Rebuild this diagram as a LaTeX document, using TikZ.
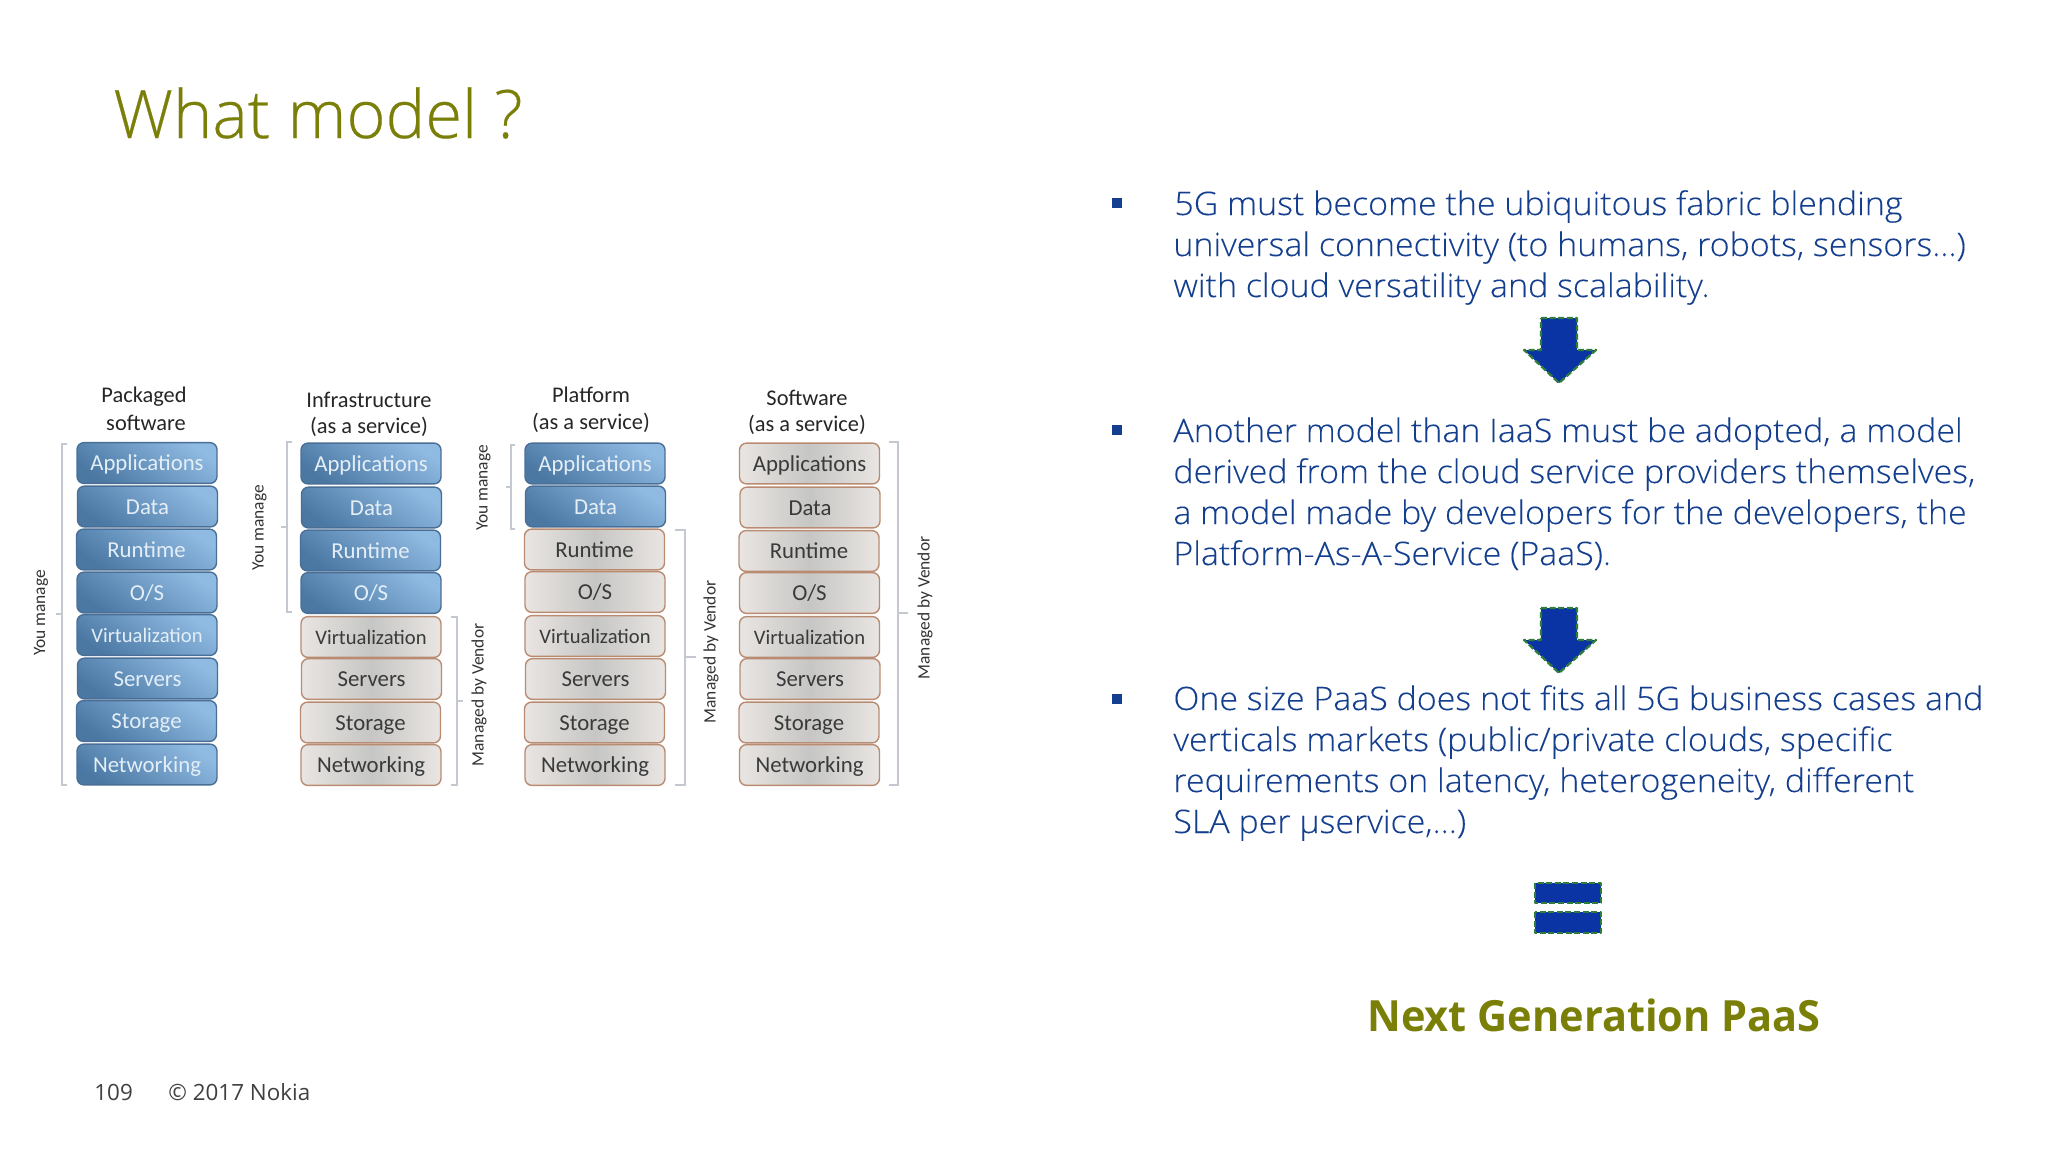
\documentclass[tikz,border=0pt]{standalone}
\usepackage{fontspec}
\setmainfont{Open Sans}
\newfontfamily\lbl{Carlito}
\newfontfamily\lightf[FakeStretch=1.048,FakeBold=0.12]{Open Sans Light}
\newfontfamily\titlef[FakeBold=0.35]{Open Sans Light}
\newfontfamily\nextf[FakeStretch=0.965]{Open Sans}
\definecolor{olive}{HTML}{7A7F08}
\definecolor{nblue}{HTML}{143F8F}
\definecolor{arrfill}{HTML}{0A34A4}
\definecolor{arrline}{HTML}{2E7D3A}
\definecolor{brk}{HTML}{C4C8D0}
\definecolor{A}{HTML}{4A78A3}
\definecolor{B}{HTML}{8FBAE2}
\definecolor{E}{HTML}{4A6F96}
\definecolor{T}{HTML}{E4EEF7}
\definecolor{G}{HTML}{B98C72}
\definecolor{H}{HTML}{E9E5E2}
\definecolor{M}{HTML}{C6C6C4}
\definecolor{S}{HTML}{3A3A3A}
\tikzset{
  x=0.5pt,y=-0.5pt,
  layer/.style={rounded corners=3.5pt,inner sep=0,line width=0.7pt,minimum width=70pt,minimum height=20.4pt,text height=9.9pt,text depth=2.4pt,font=\lbl\fontsize{11.4}{13}\selectfont},
  bluebox/.style={layer,draw=E,top color=B,bottom color=A,shading angle=-35,text=T},
  greybox/.style={layer,draw=G,left color=H,right color=H,middle color=M,text=S},
  smalltxt/.style={font=\lbl\fontsize{10.3}{12}\selectfont},
  ttl/.style={inner sep=0,font=\lbl\fontsize{11.2}{13}\selectfont,text=black!85},
  side/.style={inner sep=0,rotate=90,font=\lbl\fontsize{8.7}{10}\selectfont,text=black!80},
  brace/.style={draw=brk,line width=0.6pt},
  body/.style={anchor=base west,inner sep=0,text=nblue,font=\lightf\fontsize{16.2}{18}\selectfont},
  bul/.style={fill=nblue,inner sep=0,minimum size=5pt},
  shapeblue/.style={fill=arrfill,draw=arrline,line width=1.1pt,dash pattern=on 3pt off 1.3pt,line join=round},
}
\begin{document}
\begin{tikzpicture}
\useasboundingbox (0,0) rectangle (2048,1152);
\fill[white] (0,0) rectangle (2048,1152);
% title
\node[anchor=base west,inner sep=0,text=olive,font=\titlef\fontsize{33.4}{40}\selectfont] (title) at (113,138) {What model ?};
% column 1
\node[bluebox] (a1) at (147,463) {Applications};
\node[bluebox] (a2) at (147.5,506.5) {Data};
\node[bluebox] (a3) at (146.5,549.5) {Runtime};
\node[bluebox] (a4) at (147,592.5) {O/S};
\node[bluebox,smalltxt] (a5) at (147,635) {Virtualization};
\node[bluebox] (a6) at (147.5,678.5) {Servers};
\node[bluebox] (a7) at (146.5,721) {Storage};
\node[bluebox] (a8) at (147,764.5) {Networking};
% column 2
\node[bluebox] (b1) at (371,463.5) {Applications};
\node[bluebox] (b2) at (371.5,507.5) {Data};
\node[bluebox] (b3) at (370.5,550.5) {Runtime};
\node[bluebox] (b4) at (371,593) {O/S};
\node[greybox,smalltxt] (b5) at (371,637) {Virtualization};
\node[greybox] (b6) at (371.5,679) {Servers};
\node[greybox] (b7) at (370.5,722.5) {Storage};
\node[greybox] (b8) at (371,765) {Networking};
% column 3
\node[bluebox] (c1) at (595,463.5) {Applications};
\node[bluebox] (c2) at (595.5,506.5) {Data};
\node[greybox] (c3) at (594.5,549.5) {Runtime};
\node[greybox] (c4) at (595,592) {O/S};
\node[greybox,smalltxt] (c5) at (595,636) {Virtualization};
\node[greybox] (c6) at (595.5,679) {Servers};
\node[greybox] (c7) at (594.5,722.5) {Storage};
\node[greybox] (c8) at (595,765) {Networking};
% column 4
\node[greybox] (d1) at (809.5,463.5) {Applications};
\node[greybox] (d2) at (810,507.5) {Data};
\node[greybox] (d3) at (809,551) {Runtime};
\node[greybox] (d4) at (809.5,593) {O/S};
\node[greybox,smalltxt] (d5) at (809.5,637) {Virtualization};
\node[greybox] (d6) at (810,679) {Servers};
\node[greybox] (d7) at (809,722.5) {Storage};
\node[greybox] (d8) at (809.5,765) {Networking};
% headers
\node[ttl] (t1a) at (144,397) {Packaged};
\node[ttl] (t1b) at (146,423) {software};
\node[ttl] (t2a) at (369,400) {Infrastructure};
\node[ttl] (t2b) at (369,427) {(as a service)};
\node[ttl] (t3a) at (591,395) {Platform};
\node[ttl] (t3b) at (591,423) {(as a service)};
\node[ttl] (t4a) at (807,398) {Software};
\node[ttl] (t4b) at (807,425) {(as a service)};
% brackets
\draw[brace] (67,444) -- (62,444) -- (62,785) -- (67,785) (62,614) -- (56,614);
\draw[brace] (292,442) -- (287,442) -- (287,612) -- (292,612) (287,527) -- (281,527);
\draw[brace] (451,617) -- (457,617) -- (457,785) -- (451,785) (457,701) -- (463,701);
\draw[brace] (515,445) -- (511,445) -- (511,529) -- (515,529) (511,487) -- (506,487);
\draw[brace] (675,530) -- (685,530) -- (685,785) -- (675,785) (685,657) -- (696,657);
\draw[brace] (889,442) -- (898,442) -- (898,785) -- (889,785) (898,613) -- (908,613);
% side labels
\node[side] (s1) at (41,613) {You manage};
\node[side] (s2) at (259.5,528) {You manage};
\node[side] (s3) at (483.5,488) {You manage};
\node[side] (s4) at (479,695) {Managed by Vendor};
\node[side] (s5) at (711,652) {Managed by Vendor};
\node[side] (s6) at (925,608) {Managed by Vendor};
% right text
\node[bul] (b-a) at (1117,203) {};
\node[body] (l1) at (1174,215) {5G must become the ubiquitous fabric blending};
\node[body] (l2) at (1173,256) {universal connectivity (to humans, robots, sensors…)};
\node[body] (l3) at (1173,297) {with cloud versatility and scalability.};
\draw[shapeblue] (1541,318) -- (1577,318) -- (1577,350) -- (1596,350) -- (1559,383) -- (1524,350) -- (1541,350) -- cycle;
\node[bul] (b-b) at (1117,430) {};
\node[body] (l4) at (1173,442) {Another model than IaaS must be adopted, a model};
\node[body] (l5) at (1173,483) {derived from the cloud service providers themselves,};
\node[body] (l6) at (1173,524) {a model made by developers for the developers, the};
\node[body] (l7) at (1173,565) {Platform-As-A-Service (PaaS).};
\draw[shapeblue] (1541,608) -- (1577,608) -- (1577,640) -- (1596,640) -- (1559,673) -- (1524,640) -- (1541,640) -- cycle;
\node[bul] (b-c) at (1117,699) {};
\node[body] (l8) at (1173,710) {One size PaaS does not fits all 5G business cases and};
\node[body] (l9) at (1173,751) {verticals markets (public/private clouds, specific};
\node[body] (l10) at (1173,792) {requirements on latency, heterogeneity, different};
\node[body] (l11) at (1173,833) {SLA per µservice,…)};
\draw[shapeblue] (1535,883) rectangle (1601,903);
\draw[shapeblue] (1535,912) rectangle (1601,933);
\node[anchor=base,inner sep=0,text=olive,font=\nextf\bfseries\fontsize{21.5}{24}\selectfont] (next) at (1594,1031) {Next Generation PaaS};
% footer
\node[anchor=base west,inner sep=0,text=black!75,font=\fontsize{11.2}{13}\selectfont] (pg) at (94,1100) {109};
\node[anchor=base west,inner sep=0,text=black!75,font=\fontsize{11.2}{13}\selectfont] (cp) at (168,1100) {© 2017 Nokia};
\end{tikzpicture}
\end{document}
